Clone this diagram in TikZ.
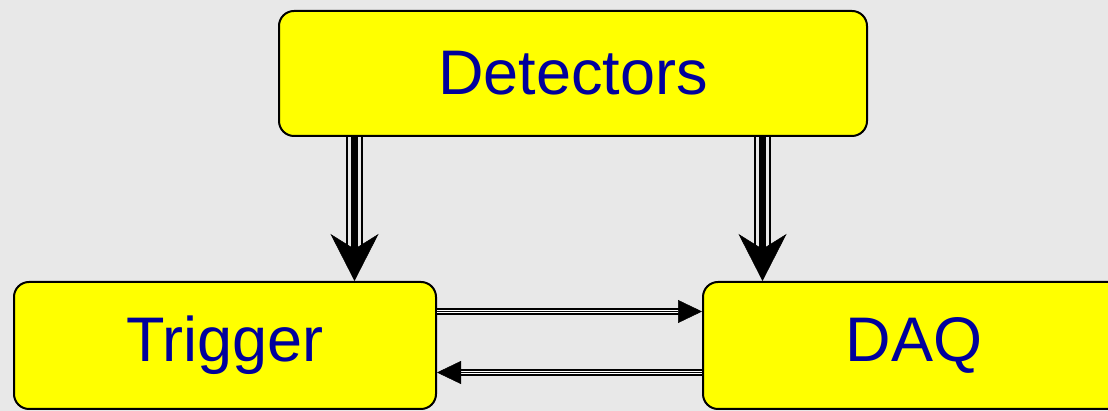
\documentclass[tikz,border=0pt]{standalone}
\usepackage{fontspec}
\setmainfont{Liberation Sans}
\usetikzlibrary{arrows.meta}
\definecolor{bgc}{HTML}{E8E8E8}
\definecolor{txtblue}{HTML}{00009C}
\definecolor{boxyellow}{HTML}{FFFF00}
\tikzset{
  box/.style={draw=black, line width=2pt, fill=boxyellow, rounded corners=15pt,
    inner sep=0pt, text=txtblue, font=\fontsize{63}{72}\selectfont},
  vshaft/.style={draw=black, line width=2pt, double=bgc, double distance=13pt, shorten >=30pt},
  vcore/.style={draw=black, line width=7pt, shorten >=30pt},
  vhead/.style={draw=black, line width=0.5pt, -{Stealth[length=47pt,width=48pt,inset=15pt]}},
  hshaft/.style={draw=black, line width=2.2pt, double=white, double distance=3pt, shorten >=20pt},
  hhead/.style={draw=black, line width=0.5pt, -{Triangle[length=24pt,width=23pt]}},
}
\begin{document}
\begin{tikzpicture}[x=1pt,y=1pt]
\fill[bgc] (0,0) rectangle (1108,411);
\useasboundingbox (0,0) rectangle (1108,411);
\clip (0,0) rectangle (1108,411);
\node[box, minimum width=588pt, minimum height=125pt] (D) at (573,337.5) {Detectors};
\node[box, minimum width=422pt, minimum height=127pt] (T) at (225,65.5) {Trigger};
\node[box, minimum width=422pt, minimum height=127pt] (Q) at (914,65.5) {DAQ};
\coordinate (a1) at (354.5,200);
\coordinate (a2) at (762.5,200);
\coordinate (h1) at (570,99.5);
\coordinate (h2) at (570,38.5);
% vertical triple arrows
\draw[vshaft] (D.south -| a1) -- (T.north -| a1);
\draw[vcore] (D.south -| a1) -- (T.north -| a1);
\draw[vhead] (D.south -| a1) -- (T.north -| a1);
\draw[vshaft] (D.south -| a2) -- (Q.north -| a2);
\draw[vcore] (D.south -| a2) -- (Q.north -| a2);
\draw[vhead] (D.south -| a2) -- (Q.north -| a2);
% horizontal double arrows
\draw[hshaft] (T.east |- h1) -- (Q.west |- h1);
\draw[hhead] (T.east |- h1) -- (Q.west |- h1);
\draw[hshaft] (Q.west |- h2) -- (T.east |- h2);
\draw[hhead] (Q.west |- h2) -- (T.east |- h2);
\end{tikzpicture}
\end{document}
